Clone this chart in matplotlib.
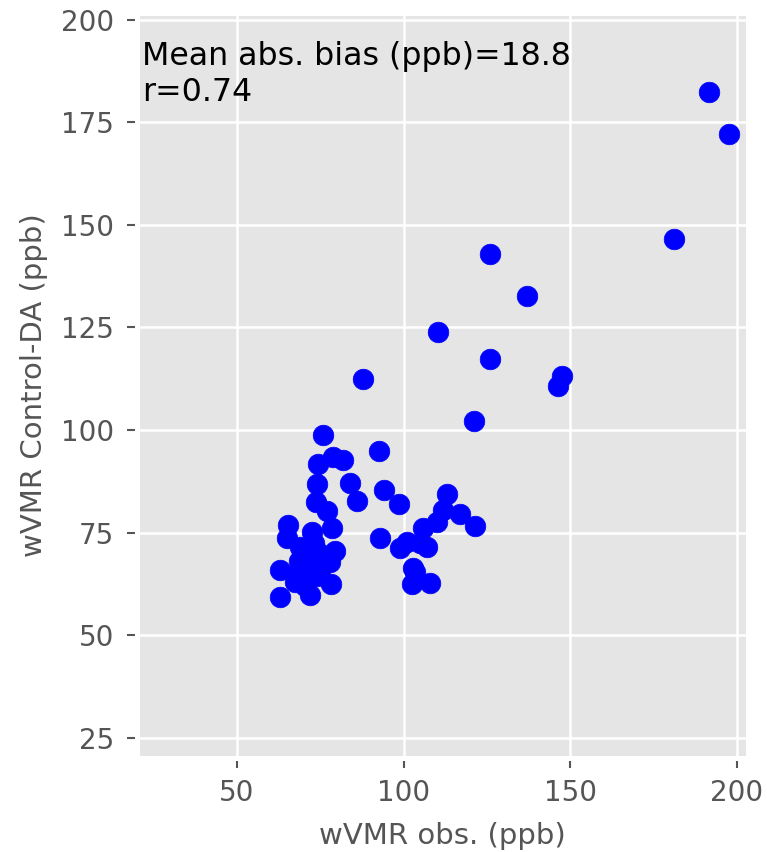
import numpy as np
import matplotlib
matplotlib.use("Agg")
import matplotlib.pyplot as plt

plt.style.use('ggplot')

obs = [191.6, 197.6, 181.1, 125.9, 137.0, 110.3, 125.9, 147.5, 146.3, 87.8,
       121.1, 75.8, 92.6, 78.8, 81.8, 74.3, 83.9, 74.0, 94.1, 86.0,
       98.6, 73.7, 77.0, 113.0, 116.9, 121.4, 111.8, 110.0, 105.8, 92.9,
       101.0, 98.9, 104.9, 107.0, 102.8, 102.5, 108.0, 103.5,
       65.3, 65.0, 72.5, 78.5, 79.5, 62.9, 62.9, 71.9, 78.2, 77.9,
       69.0, 70.5, 68.0, 74.0, 70.5, 67.5, 72.0, 74.5, 73.0, 68.5, 75.0, 71.0]
ctrl = [182.3, 172.1, 146.5, 142.9, 132.7, 123.9, 117.3, 113.2, 110.7, 112.5,
        102.2, 98.8, 94.9, 93.4, 92.6, 91.7, 87.1, 86.8, 85.4, 82.7,
        82.0, 82.5, 80.3, 84.4, 79.5, 76.6, 80.5, 77.6, 76.1, 73.7,
        72.7, 71.3, 72.5, 71.5, 66.4, 62.5, 62.8, 65.5,
        76.8, 73.7, 75.2, 76.1, 70.5, 66.0, 59.3, 59.8, 62.5, 67.8,
        71.5, 69.0, 65.0, 64.5, 62.0, 63.0, 67.0, 70.0, 72.5, 68.0, 66.0, 64.0]
bias = 18.8
r = 0.74

fig = plt.figure(figsize=(7.67, 8.52), dpi=100)
ax = fig.add_axes([0.178, 0.1109, 0.7966, 0.8744])

ax.scatter(obs, ctrl, s=220, color='blue', zorder=3)
ax.set_xlim(19.85, 203.2)
ax.set_ylim(20.26, 201.7)
ax.set_xticks([50, 100, 150, 200])
ax.set_yticks([25, 50, 75, 100, 125, 150, 175, 200])
ax.tick_params(labelsize=20, length=7.2, width=1.5, colors='#555555')
ax.tick_params(axis='y', pad=9)
ax.tick_params(axis='x', pad=8.5)
ax.grid(color='white', linewidth=1.8)
for sp in ax.spines.values():
    sp.set_visible(True)
    sp.set_color('white')
    sp.set_linewidth(3.6)

ax.set_xlabel('wVMR obs. (ppb)', fontsize=21, color='#555555')
ax.set_ylabel('wVMR Control-DA (ppb)', fontsize=21, color='#555555')
ax.xaxis.set_label_coords(0.5, -0.0866)
ax.yaxis.set_label_coords(-0.145, 0.5)

ax.text(0.009, 0.962, 'Mean abs. bias (ppb)={}\nr={}'.format(bias, r),
        transform=ax.transAxes, fontsize=22.8, va='top', ha='left', color='black')

fig.savefig('out.png', dpi=100)
